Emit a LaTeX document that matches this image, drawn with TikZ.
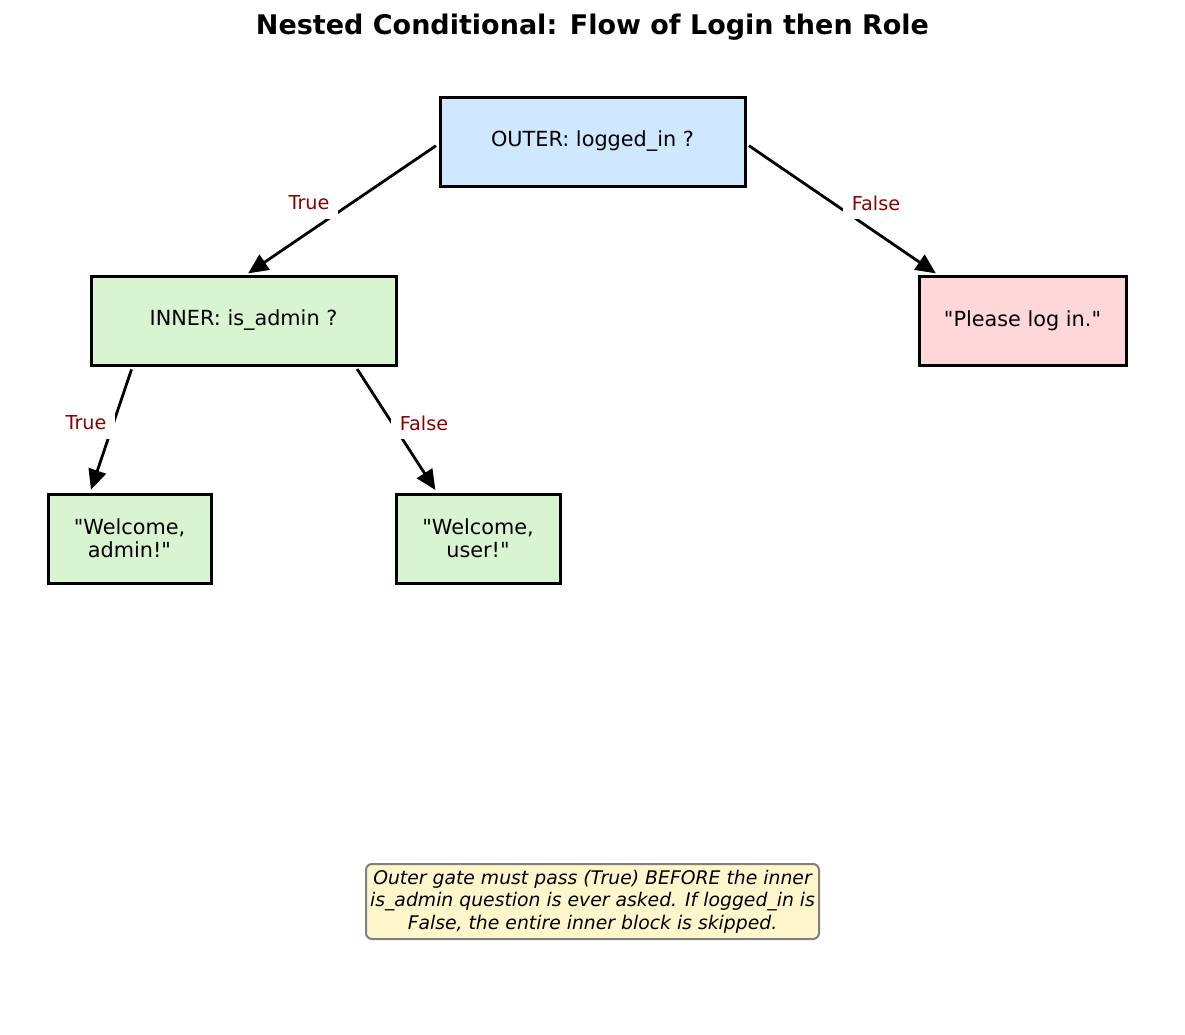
\documentclass[tikz,border=0pt]{standalone}
\usepackage{fontspec}
\setmainfont{DejaVu Sans}[Ligatures=TeXOff]
\usetikzlibrary{arrows.meta}
\definecolor{outerfill}{HTML}{CFE8FF}
\definecolor{innerfill}{HTML}{D9F4D0}
\definecolor{pinkfill}{HTML}{FFD7D9}
\definecolor{notefill}{HTML}{FFF6CC}
\definecolor{noteedge}{HTML}{808080}
\definecolor{labelred}{HTML}{8B0000}
\tikzset{
  box/.style={draw=black, line width=3pt, inner sep=0pt, align=center,
    font=\fontsize{20.8}{23}\selectfont},
  conn/.style={line width=2.8pt, -{Triangle[length=20pt,width=18pt]}},
  elabel/.style={fill=white, inner sep=9pt, text=labelred,
    font=\fontsize{19.2}{22}\selectfont},
  notebox/.style={draw=noteedge, fill=notefill, line width=2pt, rounded corners=6pt,
    align=center, inner sep=0pt, font=\fontsize{18.8}{22.5}\selectfont\itshape},
}
\begin{document}
\begin{tikzpicture}[x=1pt,y=-1pt]
\useasboundingbox (0,0) rectangle (1185,1034);
\node[font=\fontsize{27}{32}\selectfont\bfseries] (title) at (592.5,27.5) {Nested Conditional: Flow of Login then Role};
\node[box, fill=outerfill, minimum width=305pt, minimum height=89pt] (outer) at (592.5,141.5) {OUTER: logged\_in ?};
\node[box, fill=innerfill, minimum width=305pt, minimum height=89pt] (inner) at (243.5,320.5) {INNER: is\_admin ?};
\node[box, fill=pinkfill, minimum width=207pt, minimum height=89pt] (please) at (1022.5,320.5) {"Please log in."};
\node[box, fill=innerfill, minimum width=163pt, minimum height=89pt] (admin) at (129.5,538.5) {"Welcome,\\admin!"};
\node[box, fill=innerfill, minimum width=164pt, minimum height=89pt] (user) at (478,538.5) {"Welcome,\\user!"};
\node[notebox, minimum width=453pt, minimum height=75pt] (note) at (592.5,901.5)
  {Outer gate must pass (True) BEFORE the inner\\is\_admin question is ever asked. If logged\_in is\\False, the entire inner block is skipped.};

\draw[conn, shorten <=3pt, shorten >=2pt] ([yshift=-2.5pt]outer.west) -- ([xshift=3pt]inner.north);
\draw[conn, shorten <=3pt, shorten >=2pt] ([yshift=-2.5pt]outer.east) -- ([xshift=20pt]please.north west);
\draw[conn, shorten <=3pt, shorten >=3pt] ([xshift=43pt]inner.south west) -- ([xshift=43.5pt]admin.north west);
\draw[conn, shorten <=3pt, shorten >=3pt] ([xshift=-42pt]inner.south east) -- ([xshift=42.5pt]user.north west);

\node[elabel] (l1) at (309,203) {True};
\node[elabel] (l2) at (876,203) {False};
\node[elabel] (l3) at (86,423) {True};
\node[elabel] (l4) at (424,423) {False};
\end{tikzpicture}
\end{document}
